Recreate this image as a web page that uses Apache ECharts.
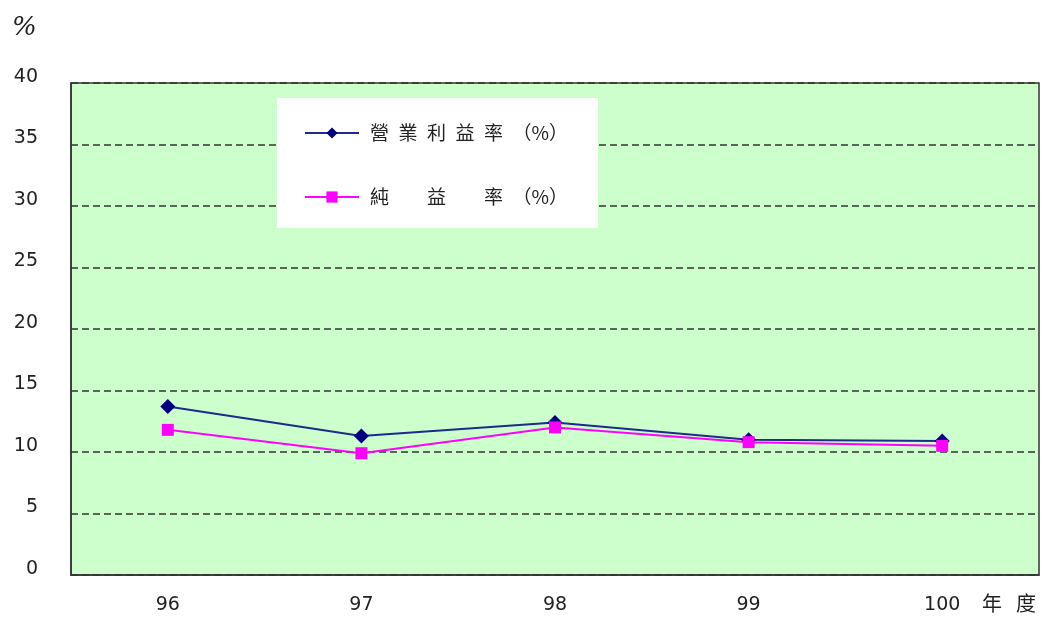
<!DOCTYPE html>
<html>
<head>
<meta charset="utf-8">
<script src="https://cdn.jsdelivr.net/npm/echarts@6/dist/echarts.min.js"></script>
<style>html,body{margin:0;padding:0;background:#fff}#c{width:1042px;height:618px}</style>
</head>
<body>
<div id="c"></div>
<script>
const categories = ['96', '97', '98', '99', '100'];
const operatingMargin = [13.7, 11.3, 12.4, 11.0, 10.9];
const netMargin = [11.8, 9.9, 12.0, 10.8, 10.5];
const yTicks = [0, 5, 10, 15, 20, 25, 30, 35, 40];
const seriesNames = ['營業利益率（%）', '純益率（%）'];
const legendLabels = ['營\u2002業\u2002利\u2002益\u2002率\u2002（%）', '純\u2002\u3000\u2002益\u2002\u3000\u2002率\u2002（%）'];

const chart = echarts.init(document.getElementById('c'));
chart.setOption({
  animation: false,
  backgroundColor: '#ffffff',
  grid: {
    left: 71, right: 3, top: 83, bottom: 43,
    show: true, backgroundColor: '#ccffcc', borderColor: '#333333', borderWidth: 1.5
  },
  xAxis: {
    type: 'category',
    data: categories,
    boundaryGap: true,
    axisLine: { lineStyle: { color: '#333333', width: 1.5 } },
    axisTick: { inside: true, length: 6, lineStyle: { color: '#333333', width: 1.5 } },
    axisLabel: { margin: 21, fontSize: 19, color: '#222222', fontFamily: 'DejaVu Sans' }
  },
  yAxis: {
    type: 'value',
    min: yTicks[0], max: yTicks[yTicks.length - 1], interval: 5,
    axisLine: { show: true, lineStyle: { color: '#333333', width: 1.5 } },
    axisTick: { show: false },
    axisLabel: { margin: 33, fontSize: 19, color: '#222222', fontFamily: 'DejaVu Sans', verticalAlign: 'bottom', lineHeight: 12 },
    splitLine: { show: true, lineStyle: { color: '#333333', type: [7, 4], width: 1.6 } }
  },
  graphic: [
    { type: 'rect', z: 5, shape: { x: 277, y: 98, width: 321, height: 130 }, style: { fill: '#ffffff' } },
    { type: 'text', z: 5, left: 12, top: 15, style: { text: '%', fontSize: 26, fontStyle: 'italic', fill: '#222', fontFamily: 'DejaVu Serif' } },
    { type: 'text', z: 5, left: 982, top: 593, style: { text: '年\u2002\u2009度', fontSize: 20, fill: '#222', fontFamily: 'Noto Sans CJK TC' } }
  ],
  legend: {
    z: 10,
    orient: 'vertical',
    left: 299, top: 118,
    itemGap: 44,
    itemWidth: 54, itemHeight: 14,
    data: seriesNames,
    formatter: function (name) { return legendLabels[seriesNames.indexOf(name)]; },
    textStyle: { fontSize: 19, lineHeight: 20, color: '#222222', fontFamily: 'Noto Sans CJK TC', padding: [0, 0, 0, 6] }
  },
  series: [
    {
      name: seriesNames[0], type: 'line', data: operatingMargin,
      symbol: 'diamond', symbolSize: 15,
      lineStyle: { color: '#1c2b8c', width: 2 },
      itemStyle: { color: '#000080' }
    },
    {
      name: seriesNames[1], type: 'line', data: netMargin,
      symbol: 'rect', symbolSize: 12,
      lineStyle: { color: '#ff00ff', width: 2 },
      itemStyle: { color: '#ff00ff' }
    }
  ]
});
</script>
</body>
</html>
